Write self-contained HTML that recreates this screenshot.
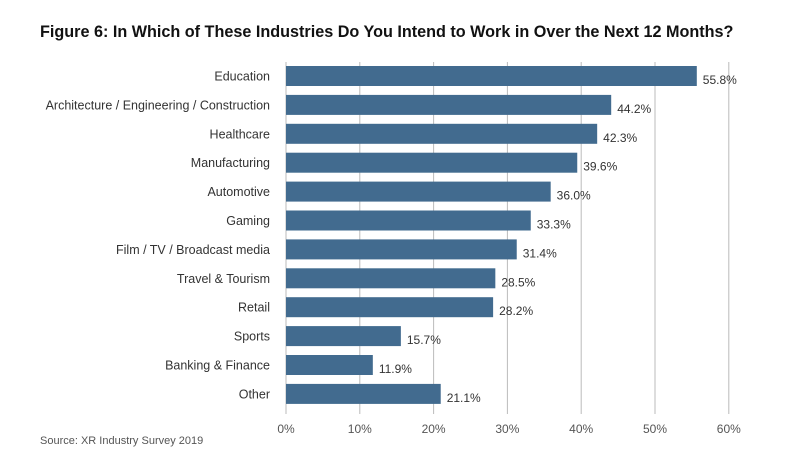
<!DOCTYPE html>
<html><head><meta charset="utf-8"><style>
body{margin:0;width:800px;height:454px;background:#fff;font-family:"Liberation Sans",sans-serif;overflow:hidden}
</style></head><body>
<svg width="800" height="454">
<text x="40" y="37" font-size="16.2" font-weight="bold" fill="#111">Figure 6: In Which of These Industries Do You Intend to Work in Over the Next 12 Months?</text>
<g id="grid"></g><g id="bars"></g>
<text x="40" y="444" font-size="11" fill="#555">Source: XR Industry Survey 2019</text>
</svg>
<script>
const categories=["Education","Architecture / Engineering / Construction","Healthcare","Manufacturing","Automotive","Gaming","Film / TV / Broadcast media","Travel & Tourism","Retail","Sports","Banking & Finance","Other"];
const values=[55.8,44.2,42.3,39.6,36.0,33.3,31.4,28.5,28.2,15.7,11.9,21.1];
const ticks=[0,10,20,30,40,50,60];
const NS="http://www.w3.org/2000/svg";
const x=v=>286+v*7.38;
const y=i=>76+i*28.9;
function mk(t,a,p){const e=document.createElementNS(NS,t);for(const k in a)e.setAttribute(k,a[k]);p.appendChild(e);return e;}
const g=document.getElementById('grid'),b=document.getElementById('bars');
ticks.forEach(t=>{
 const l=mk('line',{x1:x(t),x2:x(t),y1:62,y2:414,stroke:'#bbb','stroke-width':1},g);
 
 
 const tx=mk('text',{x:x(t),y:433,'font-size':12,fill:'#555','text-anchor':'middle'},g);
 tx.textContent=t+'%';
 
 
});
categories.forEach((c,i)=>{
 const r=mk('rect',{x:x(0),y:y(i)-10,width:x(values[i])-x(0)-1,height:20,fill:'#426b8f'},b);
 
 
 const lb=mk('text',{x:270,y:y(i)+4.5,'font-size':12.5,fill:'#333','text-anchor':'end'},b);
 lb.textContent=c;
 
 
 const v=mk('text',{x:x(values[i])+5,y:y(i)+8,'font-size':12,fill:'#333'},b);
 v.textContent=values[i].toFixed(1)+'%';
 
 
});
</script>
</body></html>
